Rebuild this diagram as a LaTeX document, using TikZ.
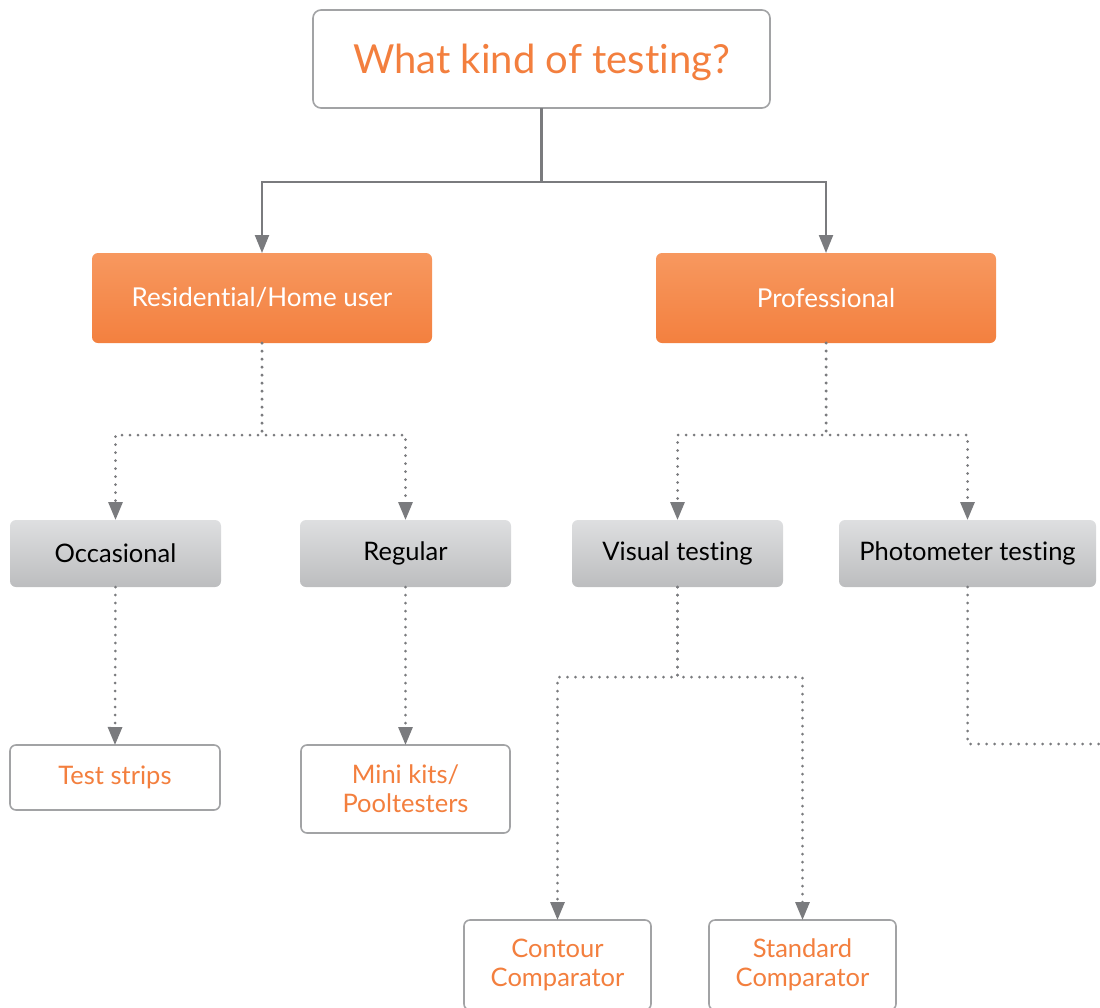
\documentclass[tikz,border=0pt]{standalone}
\usepackage{fontspec}
\setmainfont{Lato}[Ligatures=NoCommon]
\usetikzlibrary{arrows.meta}
\definecolor{orangetxt}{HTML}{F37F3E}
\definecolor{orangetop}{HTML}{F7985F}
\definecolor{orangebot}{HTML}{F3803F}
\definecolor{graytop}{HTML}{DEDFE0}
\definecolor{graybot}{HTML}{BCBDBF}
\definecolor{bordergray}{HTML}{A2A3A5}
\definecolor{conngray}{HTML}{7A7B7E}
\tikzset{
  box/.style={rounded corners=6pt, inner sep=0pt, outer sep=0pt, align=center},
  whitebox/.style={box, draw=bordergray, line width=1.6pt, fill=white, text=orangetxt,
    font=\fontsize{25.5}{29}\selectfont},
  orangebox/.style={box, top color=orangetop, bottom color=orangebot, text=white,
    font=\fontsize{26}{30}\selectfont, minimum width=340pt, minimum height=90pt},
  graybox/.style={box, top color=graytop, bottom color=graybot, text=black,
    font=\fontsize{25.5}{30}\selectfont, minimum height=67pt},
  solidconn/.style={draw=conngray, line width=2.2pt, -{Triangle[width=14pt,length=18pt]}},
  dotconn/.style={draw=conngray, line width=3pt, line cap=round, dash pattern=on 0pt off 8pt,
    -{Triangle[width=14pt,length=18pt]}},
  dotline/.style={draw=conngray, line width=3pt, line cap=round, dash pattern=on 0pt off 8pt}
}
\begin{document}
\begin{tikzpicture}[x=1pt,y=-1pt]
\useasboundingbox (0,0) rectangle (1100,1007);
\clip (0,0) rectangle (1100,1007);
% top
\node[whitebox, minimum width=457pt, minimum height=98pt, rounded corners=8pt,
  text depth=0pt, font=\fontsize{40}{48}\selectfont] (top) at (541.5,59) {What kind of testing?};
% level 1
\node[orangebox] (res) at (262,298) {Residential/Home user};
\node[orangebox] (pro) at (826,298) {Professional};
% level 2
\node[graybox, minimum width=211pt] (occ) at (115.5,553.5) {Occasional};
\node[graybox, minimum width=211pt] (reg) at (405.5,553.5) {Regular};
\node[graybox, minimum width=211pt] (vis) at (677.5,553.5) {Visual testing};
\node[graybox, minimum width=257pt] (pho) at (967.5,553.5) {Photometer testing};
% level 3
\node[whitebox, minimum width=210pt, minimum height=65pt] (ts) at (115,777.5) {Test strips};
\node[whitebox, minimum width=209pt, minimum height=88pt] (mk) at (405.5,789) {Mini kits/\\Pooltesters};
\node[whitebox, minimum width=187pt, minimum height=90pt] (cc) at (557.5,965) {Contour\\Comparator};
\node[whitebox, minimum width=187pt, minimum height=90pt] (sc) at (802.5,965) {Standard\\Comparator};
\coordinate (phend) at (1106,744);
% connectors
\draw[solidconn] (top.south) -- ++(0,74) -| (res.north);
\draw[solidconn] (top.south) -- ++(0,74) -| (pro.north);
\draw[dotconn] (res.south) -- ++(0,92) -| (occ.north);
\draw[dotconn] (res.south) -- ++(0,92) -| (reg.north);
\draw[dotconn] (pro.south) -- ++(0,92) -| (vis.north);
\draw[dotconn] (pro.south) -- ++(0,92) -| (pho.north);
\draw[dotconn] (occ.south) -- (ts.north);
\draw[dotconn] (reg.south) -- (mk.north);
\draw[dotconn] (vis.south) -- ++(0,90) -| (cc.north);
\draw[dotconn] (vis.south) -- ++(0,90) -| (sc.north);
\draw[dotline] (pho.south) |- (phend);
\end{tikzpicture}
\end{document}
